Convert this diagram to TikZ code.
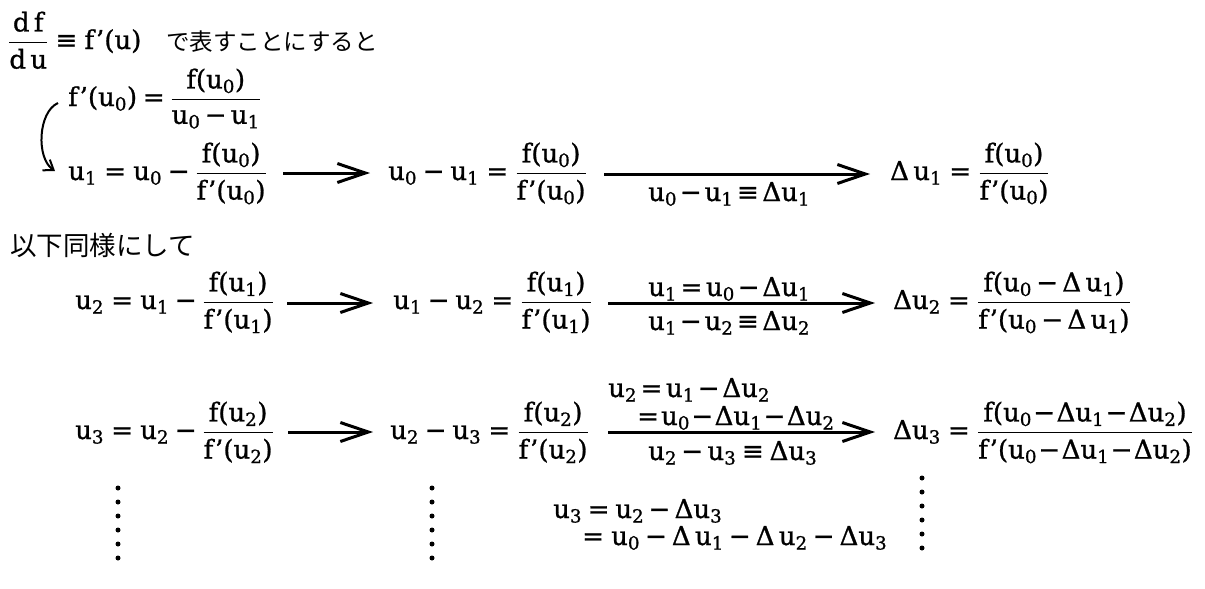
\RequirePackage{fix-cm}
\documentclass[tikz,border=0pt]{standalone}
\usepackage{amsmath}
\usepackage{fontspec}
\setmainfont{DejaVu Serif}[FakeBold=1]
\newfontfamily\jp{Noto Sans CJK JP}
\usetikzlibrary{arrows.meta}
\newcommand\T[1]{\text{#1}}
\newcommand\Uu[1]{\T{u}_{\T{#1}}}
\newcommand\Ff{\T{f}}
\newcommand\Fp{\T{f’}}
\newcommand\Dl{\T{Δ}}
\newcommand\EQ{\mathrel{\T{=}}}
\newcommand\MI{\mathbin{\T{−}}}
\newcommand\EQV{\mathrel{\T{≡}}}
\newcommand\LP{\mathopen{\T{(}}}
\newcommand\RP{\mathclose{\T{)}}}
\newcommand\Fr[2]{\genfrac{}{}{1.8pt}{0}{#1}{#2}}
\newcommand\Tight{\medmuskip=2mu \thickmuskip=2.5mu }
\newcommand\VTight{\medmuskip=1mu \thickmuskip=1.5mu }
\begin{document}
\begin{tikzpicture}[x=1pt,y=-1pt,
  eq/.style={inner sep=0pt, anchor=base west, font=\fontsize{26}{32}\selectfont},
  jtext/.style={inner sep=0pt, anchor=west, font=\fontsize{23.5}{28}\selectfont\jp},
  bigarrow/.style={line width=3pt, -{Straight Barb[length=28pt,width=19pt]}},
  curvearrow/.style={line width=2pt, -{Straight Barb[length=9pt,width=13pt]}},
  vdot/.style={circle, fill=black, inner sep=0pt, minimum size=5pt}]
\useasboundingbox (0,0) rectangle (1205,589);
% row 1
\node[eq] (t1) at (8,49) {$\Fr{\T{d\,f}}{\T{d\,u}}\EQV\Fp\LP\T{u}\RP$};
\node[jtext] (t1j) at (166,42) {で表すことにすると};
% row 2
\node[eq] (r2) at (68,106) {$\medmuskip=3mu \thickmuskip=4mu \Fp\LP\Uu0\RP\EQ\Fr{\Ff\LP\Uu0\RP}{\Uu0\MI\Uu1}$};
\coordinate (c1) at (58,103);
\coordinate (c2) at (55,171);
\draw[curvearrow] (c1) .. controls (38,112) and (36,158) .. (c2);
% row 3
\node[eq] (r3a) at (68,180) {$\Uu1\EQ\Uu0\MI\Fr{\Ff\LP\Uu0\RP}{\Fp\LP\Uu0\RP}$};
\node[eq] (r3b) at (388,180) {$\Uu0\MI\Uu1\EQ\Fr{\Ff\LP\Uu0\RP}{\Fp\LP\Uu0\RP}$};
\node[eq] (r3c) at (890,180) {$\Dl\,\Uu1\EQ\Fr{\Ff\LP\Uu0\RP}{\Fp\LP\Uu0\RP}$};
\coordinate (a31s) at (283,173); \coordinate (a31e) at (370,173);
\coordinate (a32s) at (604,174); \coordinate (a32e) at (870,174);
\draw[bigarrow] (a31s) -- (a31e);
\draw[bigarrow] (a32s) -- (a32e);
\node[eq] (l3) at (648,201) {$\Tight\Uu0\MI\Uu1\EQV\Dl\Uu1$};
% text
\node[jtext, font=\fontsize{26.5}{30}\selectfont\jp] (t2) at (10,245) {以下同様にして};
% row 4
\node[eq] (r4a) at (75,309) {$\Uu2\EQ\Uu1\MI\Fr{\Ff\LP\Uu1\RP}{\Fp\LP\Uu1\RP}$};
\node[eq] (r4b) at (393,309) {$\Uu1\MI\Uu2\EQ\Fr{\Ff\LP\Uu1\RP}{\Fp\LP\Uu1\RP}$};
\node[eq] (r4c) at (893,309) {$\medmuskip=3mu \Dl\Uu2\EQ\Fr{\Ff\LP\Uu0\MI\Dl\,\Uu1\RP}{\Fp\LP\Uu0\MI\Dl\,\Uu1\RP}$};
\coordinate (a41s) at (287,303); \coordinate (a41e) at (373,303);
\coordinate (a42s) at (608,303); \coordinate (a42e) at (875,303);
\draw[bigarrow] (a41s) -- (a41e);
\draw[bigarrow] (a42s) -- (a42e);
\node[eq] (l4a) at (648,296) {$\Tight\Uu1\EQ\Uu0\MI\Dl\Uu1$};
\node[eq] (l4b) at (648,330) {$\Tight\Uu1\MI\Uu2\EQV\Dl\Uu2$};
% row 5
\node[eq] (r5a) at (75,439) {$\Uu3\EQ\Uu2\MI\Fr{\Ff\LP\Uu2\RP}{\Fp\LP\Uu2\RP}$};
\node[eq] (r5b) at (390,439) {$\Uu2\MI\Uu3\EQ\Fr{\Ff\LP\Uu2\RP}{\Fp\LP\Uu2\RP}$};
\node[eq] (r5c) at (893,439) {$\VTight\Dl\Uu3\mskip3.5mu\EQ\mskip3.5mu\Fr{\Ff\LP\Uu0\MI\Dl\Uu1\MI\Dl\Uu2\RP}{\Fp\LP\Uu0\MI\Dl\Uu1\MI\Dl\Uu2\RP}$};
\coordinate (a51s) at (288,432); \coordinate (a51e) at (373,432);
\coordinate (a52s) at (608,432); \coordinate (a52e) at (875,432);
\draw[bigarrow] (a51s) -- (a51e);
\draw[bigarrow] (a52s) -- (a52e);
\node[eq] (l5a) at (608,397) {$\Tight\Uu2\EQ\Uu1\MI\Dl\Uu2$};
\node[eq] (l5b) at (637,425) {$\VTight\EQ\Uu0\MI\Dl\Uu1\MI\Dl\Uu2$};
\node[eq] (l5c) at (648,460) {$\medmuskip=3mu \thickmuskip=4mu \Uu2\MI\Uu3\EQV\Dl\Uu3$};
% below
\node[eq] (b1) at (553,518) {$\medmuskip=3mu \thickmuskip=4mu \Uu3\EQ\Uu2\MI\Dl\Uu3$};
\node[eq] (b2) at (582,545) {$\medmuskip=3.5mu \EQ\Uu0\MI\Dl\,\Uu1\MI\Dl\,\Uu2\MI\Dl\Uu3$};
% dots
\foreach \i in {0,...,5} {
  \node[vdot] (da\i) at (118,488+14*\i) {};
  \node[vdot] (db\i) at (432,488+14*\i) {};
  \node[vdot] (dc\i) at (922,478+14*\i) {};
}
\end{tikzpicture}
\end{document}
